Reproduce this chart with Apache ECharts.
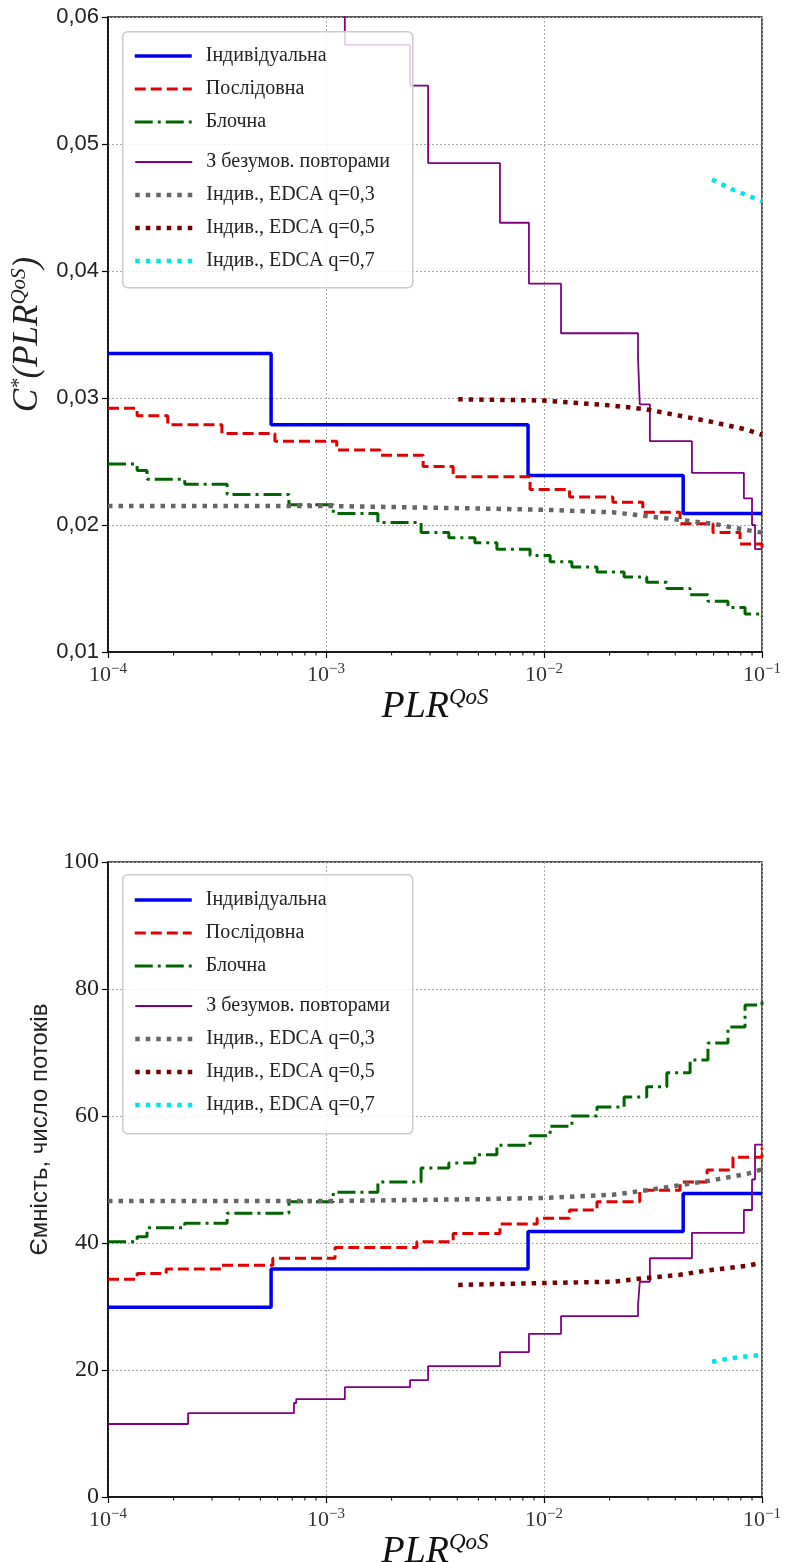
<!DOCTYPE html>
<html>
<head>
<meta charset="utf-8">
<script src="https://cdn.jsdelivr.net/npm/echarts@6/dist/echarts.min.js"></script>
<style>
html, body { margin: 0; padding: 0; background: #fff; }
#chart { width: 785px; height: 1562px; }
</style>
</head>
<body>
<div id="chart"></div>
<script>
// назви рядів (легенда)
const names = ['Індивідуальна', 'Послідовна', 'Блочна', 'З безумов. повторами',
  'Індив., EDCA q=0,3', 'Індив., EDCA q=0,5', 'Індив., EDCA q=0,7'];

// --- верхній графік: C*(PLR) ---
const indivX = [1e-4, 5.6e-4, 8.45e-3, 0.0435, 0.1];
const indivTop = [0.0335, 0.0279, 0.0239, 0.0209, 0.0209];

const seqX = [1e-4, 1.36e-4, 1.88e-4, 3.33e-4, 5.83e-4, 1.12e-3, 1.77e-3, 2.79e-3, 3.83e-3,
  8.63e-3, 0.0131, 0.0207, 0.0284, 0.0421, 0.0596, 0.0793, 0.1];
const seqTop = [0.0292, 0.0286, 0.0279, 0.0272, 0.0266, 0.0259, 0.0255, 0.0246, 0.0238,
  0.0228, 0.0222, 0.0218, 0.0210, 0.0201, 0.0194, 0.0185, 0.0182];

const blockX = [1e-4, 1.36e-4, 1.51e-4, 2.25e-4, 3.52e-4, 6.76e-4, 1.08e-3, 1.73e-3, 2.73e-3,
  3.66e-3, 4.82e-3, 6.08e-3, 8.63e-3, 0.01067, 0.01343, 0.0175, 0.0233, 0.0296, 0.0366,
  0.0468, 0.0565, 0.0698, 0.0836, 0.1];
const blockTop = [0.0248, 0.0243, 0.0236, 0.0232, 0.0224, 0.0216, 0.0209, 0.0202, 0.0194,
  0.0190, 0.0186, 0.0181, 0.0176, 0.0171, 0.0167, 0.0163, 0.0159, 0.0155, 0.0150,
  0.0145, 0.0140, 0.0135, 0.0130, 0.0128];

const repTopX = [7.3e-4, 1.22e-3, 2.43e-3, 2.94e-3, 6.28e-3, 8.53e-3, 0.01197, 0.027, 0.0275,
  0.0306, 0.0477, 0.0826, 0.09, 0.0929, 0.1];
const repTop = [0.065, 0.0578, 0.0546, 0.0485, 0.0438, 0.0390, 0.0351, 0.0331, 0.0295,
  0.0266, 0.0241, 0.0221, 0.0200, 0.0181, 0.0181];

const q3X = [1e-4, 1e-3, 5e-3, 1e-2, 0.0207, 0.0296, 0.042, 0.0596, 0.0853, 0.1];
const q3Top = [0.0215, 0.0215, 0.0213, 0.0212, 0.0210, 0.0207, 0.0204, 0.0201, 0.0196, 0.0194];

const q5X = [4.04e-3, 1e-2, 0.0207, 0.0296, 0.042, 0.0596, 0.0853, 0.1];
const q5Top = [0.0299, 0.0298, 0.0294, 0.0291, 0.0286, 0.0281, 0.0275, 0.0271];

const q7X = [0.059, 0.0736, 0.1];
const q7Top = [0.0472, 0.0464, 0.0455];

// --- нижній графік: ємність, число потоків ---
const indivBot = [29.9, 35.9, 41.8, 47.8, 47.8];

const seqBotX = [1e-4, 1.36e-4, 1.85e-4, 3.3e-4, 5.7e-4, 1.1e-3, 2.61e-3, 3.83e-3, 6.28e-3,
  9.3e-3, 0.0131, 0.0175, 0.0275, 0.0421, 0.056, 0.0736, 0.1];
const seqBot = [34.3, 35.2, 35.9, 36.5, 37.6, 39.3, 40.2, 41.5, 43.0,
  43.9, 45.2, 46.5, 48.3, 49.6, 51.5, 53.5, 55.0];

const blockBot = [40.2, 41.0, 42.4, 43.1, 44.7, 46.5, 48.0, 49.6, 51.8,
  52.6, 53.9, 55.4, 56.9, 58.4, 60.0, 61.4, 63.0, 64.6, 66.8,
  68.8, 71.5, 74.0, 77.5, 78.5];

const repBotX = [1e-4, 2.33e-4, 7.13e-4, 7.3e-4, 1.22e-3, 2.43e-3, 2.94e-3, 6.28e-3, 8.53e-3,
  0.01197, 0.027, 0.0275, 0.0306, 0.0477, 0.0826, 0.09, 0.0929, 0.1];
const repBot = [11.5, 13.2, 14.8, 15.4, 17.3, 18.4, 20.6, 22.8, 25.7,
  28.5, 30.2, 33.9, 37.6, 41.6, 45.2, 50.0, 55.5, 55.5];

const q3Bot = [46.6, 46.6, 46.9, 47.1, 47.6, 48.3, 49.1, 49.9, 50.9, 51.6];
const q5Bot = [33.4, 33.7, 33.9, 34.5, 35.0, 35.8, 36.4, 36.9];
const q7Bot = [21.3, 21.9, 22.4];

// дрібні поділки log-осі
const decades = [1e-4, 1e-3, 1e-2];
const minorMul = [2, 3, 4, 5, 6, 7, 8, 9];

const styles = [
  { color: '#0000f0', width: 3.5, type: 'solid', step: 'end' },
  { color: '#e00000', width: 3, type: [11, 5], step: 'end' },
  { color: '#006400', width: 3, type: [18, 5, 3, 5], step: 'end' },
  { color: '#800080', width: 1.8, type: 'solid', step: 'end' },
  { color: '#666666', width: 4.5, type: [4.5, 6], step: false },
  { color: '#780000', width: 4.5, type: [4.5, 6], step: false },
  { color: '#00e5e5', width: 4.5, type: [4.5, 6], step: false }
];

function zip(xs, ys) {
  return xs.map((x, i) => [x, ys[i]]);
}

function lineSeries(i, data, g) {
  let s = styles[i];
  return {
    name: names[i],
    type: 'line',
    xAxisIndex: g,
    yAxisIndex: g,
    step: s.step,
    showSymbol: false,
    symbol: 'none',
    animation: false,
    silent: true,
    color: s.color,
    lineStyle: { color: s.color, width: s.width, type: s.type, cap: 'butt' },
    data: data
  };
}

function minorSeries(g, yMin) {
  let d = [];
  decades.forEach(dec => minorMul.forEach(m => d.push([dec * m, yMin])));
  return {
    type: 'custom',
    xAxisIndex: g,
    yAxisIndex: g,
    silent: true,
    animation: false,
    renderItem(params, api) {
      let p = api.coord([api.value(0), api.value(1)]);
      return {
        type: 'line',
        shape: { x1: p[0], y1: p[1], x2: p[0], y2: p[1] + 3.5 },
        style: { stroke: '#000', lineWidth: 1 }
      };
    },
    data: d
  };
}

const serif = 'Liberation Serif';
const supLabel = {
  b: { fontFamily: serif, fontSize: 22, color: '#333', lineHeight: 26 },
  s: { fontFamily: serif, fontSize: 15, color: '#333', verticalAlign: 'top', lineHeight: 15 }
};

function xAxis(g) {
  return {
    type: 'log',
    gridIndex: g,
    min: 1e-4,
    max: 0.1,
    logBase: 10,
    name: '{i|PLR}{s|QoS}',
    nameLocation: 'middle',
    nameGap: 33,
    nameTextStyle: {
      rich: {
        i: { fontFamily: serif, fontStyle: 'italic', fontSize: 38, color: '#111', lineHeight: 40 },
        s: { fontFamily: serif, fontStyle: 'italic', fontSize: 23, color: '#111', verticalAlign: 'top', lineHeight: 23 }
      }
    },
    axisLine: { show: true, onZero: false, lineStyle: { color: '#000', width: 1.5 } },
    axisTick: { show: true, length: 6, lineStyle: { color: '#000', width: 1.2 } },
    axisLabel: {
      margin: 10,
      formatter: v => '{b|10}{s|\u2212' + Math.round(-Math.log10(v)) + '}',
      rich: supLabel
    },
    splitLine: { show: true, lineStyle: { color: '#aaaaaa', width: 1, type: [2, 2] } }
  };
}

function yAxis(g, min, max, step, fmt, font, size, nameText, nameGap, nameStyle) {
  return {
    type: 'value',
    gridIndex: g,
    min: min,
    max: max,
    interval: step,
    name: nameText,
    nameLocation: 'middle',
    nameGap: nameGap,
    nameTextStyle: nameStyle,
    axisLine: { show: true, onZero: false, lineStyle: { color: '#000', width: 1.5 } },
    axisTick: { show: true, length: 6, lineStyle: { color: '#000', width: 1.2 } },
    axisLabel: { margin: 9, formatter: fmt, fontFamily: font, fontSize: size, color: '#222' },
    splitLine: { show: true, lineStyle: { color: '#aaaaaa', width: 1, type: [2, 2] } }
  };
}

function legend(top, from, to) {
  let list = [];
  for (let i = from; i < to; i++) {
    list.push({ name: names[i], lineStyle: { width: styles[i].width, type: styles[i].type } });
  }
  return {
    orient: 'vertical',
    left: 133,
    top: top,
    z: 60,
    padding: 0,
    itemWidth: 57,
    itemHeight: 14,
    itemGap: 13,
    selectedMode: false,
    data: list,
    itemStyle: { opacity: 0 },
    textStyle: { fontFamily: serif, fontSize: 20, color: '#222', lineHeight: 14, padding: [0, 0, 0, 9] }
  };
}

function legendBox(y, h) {
  return {
    type: 'rect',
    left: 122,
    top: y,
    z: 50,
    shape: { width: 290, height: h, r: 5 },
    style: { fill: 'rgba(255,255,255,0.8)', stroke: '#cccccc', lineWidth: 1.5 }
  };
}

const chart = echarts.init(document.getElementById('chart'), null, { renderer: 'canvas' });

const series = [
  lineSeries(0, zip(indivX, indivTop), 0),
  lineSeries(1, zip(seqX, seqTop), 0),
  lineSeries(2, zip(blockX, blockTop), 0),
  lineSeries(3, zip(repTopX, repTop), 0),
  lineSeries(4, zip(q3X, q3Top), 0),
  lineSeries(5, zip(q5X, q5Top), 0),
  lineSeries(6, zip(q7X, q7Top), 0),
  lineSeries(0, zip(indivX, indivBot), 1),
  lineSeries(1, zip(seqBotX, seqBot), 1),
  lineSeries(2, zip(blockX, blockBot), 1),
  lineSeries(3, zip(repBotX, repBot), 1),
  lineSeries(4, zip(q3X, q3Bot), 1),
  lineSeries(5, zip(q5X, q5Bot), 1),
  lineSeries(6, zip(q7X, q7Bot), 1),
  minorSeries(0, 0.01),
  minorSeries(1, 0)
];

chart.setOption({
  animation: false,
  backgroundColor: '#fff',
  grid: [
    { left: 108, top: 17, width: 654, height: 635, show: true, borderColor: '#222', borderWidth: 1.5, outerBoundsMode: 'none' },
    { left: 108, top: 862, width: 654, height: 635, show: true, borderColor: '#222', borderWidth: 1.5, outerBoundsMode: 'none' }
  ],
  xAxis: [xAxis(0), xAxis(1)],
  yAxis: [
    yAxis(0, 0.01, 0.06, 0.01, v => v.toFixed(2).replace('.', ','), 'Liberation Sans', 22,
      '{i|C}{s|*}{i|(PLR}{s|QoS}{i|)}', 48, {
        rich: {
          i: { fontFamily: serif, fontStyle: 'italic', fontSize: 35, color: '#222', lineHeight: 38 },
          s: { fontFamily: serif, fontStyle: 'italic', fontSize: 21, color: '#222', verticalAlign: 'top', lineHeight: 21 }
        }
      }),
    yAxis(1, 0, 100, 20, v => String(v), serif, 24,
      'Ємність, число потоків', 55, { fontFamily: 'Liberation Sans', fontSize: 24, color: '#222', padding: [0, 0, 0, 100] })
  ],
  legend: [
    legend(46, 0, 3),
    legend(152, 3, 7),
    legend(46 + 844, 0, 3),
    legend(152 + 844, 3, 7)
  ],
  graphic: [legendBox(31, 256), legendBox(874, 259)],
  series: series
});
</script>
</body>
</html>
